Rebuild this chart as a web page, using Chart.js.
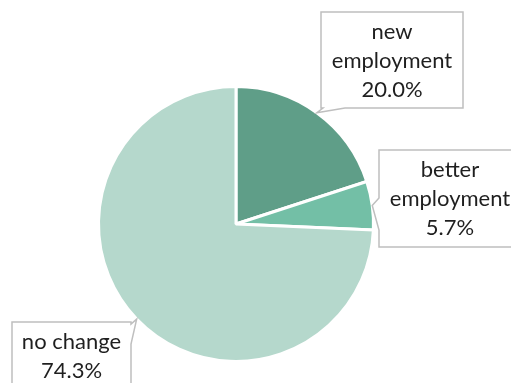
<!DOCTYPE html>
<html>
<head>
<meta charset="utf-8">
<script src="https://cdn.jsdelivr.net/npm/chart.js@4"></script>
<style>
  html, body { margin: 0; padding: 0; background: #fff; }
  #wrap { width: 511px; height: 383px; position: relative; }
</style>
</head>
<body>
<div id="wrap"><canvas id="employmentPie"></canvas></div>
<script>
// categories (multi-line as drawn in the callouts)
const categories = [['new', 'employment'], ['better', 'employment'], ['no change']];
// share of respondents, %
const shares = [20.0, 5.7, 74.3];
const sliceColors = ['#5f9e88', '#73bfa6', '#b5d8cc'];

// callout boxes: x, y, w, h, which side the pointer leaves from, and the span of its base on that side
const callouts = [
    { x: 321, y: 12, w: 142, h: 96, side: 'bottom', base: [2, 24] },
    { x: 379, y: 150, w: 142, h: 97, side: 'left', base: [48, 80] },
    { x: 12, y: 322, w: 119, h: 97, side: 'right', base: [2, 22] }
];

const calloutPlugin = {
    id: 'callouts',
    afterDatasetsDraw(chart) {
        const ctx = chart.ctx;
        const arcs = chart.getDatasetMeta(0).data;
        arcs.forEach(function (arc, i) {
            const c = callouts[i];
            const p = arc.getProps(['x', 'y', 'startAngle', 'endAngle', 'outerRadius']);
            const mid = (p.startAngle + p.endAngle) / 2;
            const tx = p.x + Math.cos(mid) * p.outerRadius;
            const ty = p.y + Math.sin(mid) * p.outerRadius;

            ctx.save();
            ctx.beginPath();
            const r = c.x + c.w, b = c.y + c.h;
            ctx.moveTo(c.x, c.y);
            ctx.lineTo(r, c.y);
            if (c.side === 'right') {
                ctx.lineTo(r, c.y + c.base[0]);
                ctx.lineTo(tx, ty);
                ctx.lineTo(r, c.y + c.base[1]);
            }
            ctx.lineTo(r, b);
            if (c.side === 'bottom') {
                ctx.lineTo(c.x + c.base[1], b);
                ctx.lineTo(tx, ty);
                ctx.lineTo(c.x + c.base[0], b);
            }
            ctx.lineTo(c.x, b);
            if (c.side === 'left') {
                ctx.lineTo(c.x, c.y + c.base[1]);
                ctx.lineTo(tx, ty);
                ctx.lineTo(c.x, c.y + c.base[0]);
            }
            ctx.closePath();
            ctx.fillStyle = '#ffffff';
            ctx.fill();
            ctx.strokeStyle = '#bfbfbf';
            ctx.lineWidth = 1.5;
            ctx.stroke();

            const lines = [].concat(chart.data.labels[i], shares[i].toFixed(1) + '%');
            ctx.fillStyle = '#1f1f1f';
            ctx.font = '22px Lato';
            ctx.textAlign = 'center';
            ctx.textBaseline = 'alphabetic';
            lines.forEach(function (t, k) {
                ctx.fillText(t, c.x + c.w / 2, c.y + 27 + k * 29);
            });
            ctx.restore();
        });
    }
};

new Chart(document.querySelector('#employmentPie'), {
    type: 'pie',
    data: {
        labels: categories,
        datasets: [{
            data: shares,
            backgroundColor: sliceColors,
            borderColor: '#ffffff',
            borderWidth: 3
        }]
    },
    options: {
        responsive: true,
        maintainAspectRatio: false,
        animation: false,
        layout: {
            padding: { left: 97, right: 136, top: 85, bottom: 20 }
        },
        plugins: {
            legend: { display: false },
            tooltip: { enabled: false }
        }
    },
    plugins: [calloutPlugin]
});
</script>
</body>
</html>
